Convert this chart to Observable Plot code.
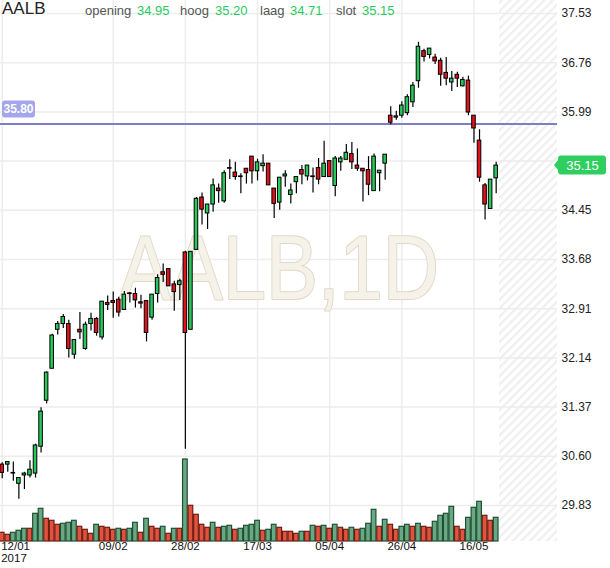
<!DOCTYPE html>
<html><head><meta charset="utf-8">
<script src="https://cdn.jsdelivr.net/npm/d3@7"></script>
<script src="https://cdn.jsdelivr.net/npm/@observablehq/plot@0.6"></script>
<style>
body{margin:0;background:#fff;font-family:"Liberation Sans",Arial,sans-serif;}
#wrap{position:relative;width:610px;height:568px;overflow:hidden;background:#fff}
#wrap svg{position:absolute;left:0;top:0}
#hdr{position:absolute;left:0;top:0;width:610px;height:20px;font-size:13px;color:#555;z-index:5}
#hdr span{position:absolute;top:3px;white-space:nowrap;line-height:15px}
#hdr .sym{font-size:17px;color:#222;top:1px;left:2px}
#hdr .v{color:#27cc5c}
</style></head><body>
<div id="wrap"><div id="hdr"></div></div>
<script>
// ---- data ----
const symbol = "AALB";
const watermark = "AALB,1D";
const dateLabels = ["12/01","09/02","28/02","17/03","05/04","26/04","16/05"];
const dateTickIdx = [0,20,33,46,59,72,85];
const yearLabel = "2017";
const priceTicks = [37.53,36.76,35.99,35.22,34.45,33.68,32.91,32.14,31.37,30.60,29.83];
const alertLevel = 35.80;
const hdrLabels = ["opening","hoog","laag","slot"];

const open  = [30.47,30.47,30.34,30.17,30.30,30.30,30.33,30.75,31.47,31.97,32.58,32.67,32.67,32.19,32.58,32.28,32.67,32.75,32.46,33.00,
               33.03,33.05,32.89,33.15,33.14,33.01,33.03,32.77,33.14,33.48,33.53,33.29,33.28,33.79,32.58,33.83,34.65,34.40,34.54,34.79,
               34.59,35.11,35.04,34.98,35.10,35.29,35.06,35.14,35.18,34.79,34.57,34.98,34.69,34.89,35.08,34.98,34.98,35.11,34.97,35.22,
               34.83,35.20,35.24,35.33,35.15,35.10,35.08,34.75,35.03,35.18,35.93,35.90,35.93,35.97,36.14,36.47,36.94,36.88,36.84,36.79,
               36.60,36.45,36.57,36.39,36.48,35.93,35.54,34.84,34.47,34.95];
const high  = [30.50,30.51,30.51,30.26,30.35,30.53,30.79,31.36,31.92,32.51,32.71,32.82,32.73,32.42,32.85,32.70,32.84,32.77,33.02,33.11,
               33.17,33.09,33.18,33.16,33.23,33.12,33.03,33.13,33.44,33.61,33.53,33.34,33.37,33.81,33.80,34.65,34.72,34.54,34.94,34.86,
               35.07,35.24,35.20,35.02,35.10,35.29,35.25,35.32,35.18,34.79,34.96,35.07,34.86,34.97,35.15,35.15,35.11,35.26,35.53,35.22,
               35.29,35.29,35.48,35.51,35.41,35.10,35.29,35.33,35.07,35.32,36.07,36.00,36.15,36.26,36.45,37.08,36.97,36.98,36.89,36.83,
               36.84,36.62,36.61,36.53,36.55,35.93,35.71,34.87,34.93,35.20];
const low   = [30.25,30.35,30.21,29.93,30.08,30.26,30.26,30.65,31.42,31.97,32.50,32.60,32.14,32.12,32.43,32.26,32.56,32.48,32.42,32.88,
               32.76,32.78,32.89,33.00,32.92,32.91,32.39,32.73,33.00,33.32,33.26,32.87,33.04,30.71,32.58,33.83,34.22,34.15,34.42,34.56,
               34.56,34.93,34.92,34.71,34.86,34.86,34.91,35.05,34.84,34.32,34.45,34.81,34.55,34.71,34.85,34.91,34.72,34.85,34.97,34.97,
               34.66,35.06,35.24,35.09,35.06,34.58,34.68,34.75,34.74,34.92,35.79,35.86,35.89,35.93,36.06,36.36,36.77,36.82,36.73,36.39,
               36.40,36.31,36.37,36.38,35.93,35.50,34.89,34.30,34.47,34.71];
const close = [30.34,30.51,30.33,30.26,30.33,30.39,30.77,31.30,31.91,32.49,32.67,32.78,32.28,32.42,32.54,32.66,32.75,32.53,33.02,32.97,
               33.00,32.85,33.13,33.14,33.04,32.99,32.53,33.13,33.39,33.44,33.26,33.17,33.34,32.53,33.80,34.63,34.46,34.54,34.84,34.75,
               35.03,35.10,34.97,34.97,35.03,35.06,35.20,35.18,34.84,34.55,34.96,35.01,34.76,34.97,35.01,35.15,34.97,34.93,35.18,34.97,
               35.26,35.26,35.35,35.20,35.10,35.06,34.85,35.29,35.07,35.32,35.82,35.92,36.09,36.22,36.40,37.01,36.85,36.98,36.78,36.57,
               36.51,36.51,36.51,36.49,35.98,35.73,34.96,34.54,34.93,35.15];
// volume (millions)
const volume = [0.87,0.67,0.87,1.07,1.27,1.27,2.77,3.27,2.27,2.07,1.67,1.77,1.87,2.07,1.47,1.17,0.77,1.67,1.47,1.37,
                1.17,1.27,1.17,1.27,1.87,0.87,2.27,1.47,1.27,1.47,0.77,1.27,1.27,8.20,3.57,2.67,1.67,1.37,1.87,1.37,
                1.47,1.57,1.17,1.27,1.57,1.67,2.07,1.07,1.17,1.67,1.37,0.97,0.97,0.77,0.97,0.97,1.57,1.47,1.57,1.27,
                1.67,1.37,1.17,1.37,1.17,1.27,1.77,3.17,1.47,2.17,1.67,1.17,1.47,1.67,1.47,1.77,1.47,1.37,1.97,2.57,
                2.77,3.47,1.47,1.17,2.37,3.37,3.97,2.57,2.07,2.37];
// volume bar direction: U = green, d = red
const volDir = ["d","d","U","U","U","d","U","U","d","d","d","U","U","U","d","d","d","U","d","d",
                "d","U","d","U","U","d","U","d","d","U","d","U","d","U","d","d","d","d","U","d",
                "U","U","d","U","U","U","U","d","U","U","d","d","d","d","U","d","U","d","U","d",
                "U","d","d","U","d","U","U","U","d","U","d","d","U","U","d","U","d","d","U","U",
                "U","U","d","d","U","U","U","d","d","U"];

// ---- styling ----
const UP = "#27c95b", DN = "#e3111b";
const VUP = "#68a983", VUPS = "#1f4f33", VDN = "#e0543f", VDNS = "#6e1c12";
const FONT = "'Liberation Sans', Arial, sans-serif";
const W = 610, H = 568;
const n = open.length;
const idx = d3.range(n);
const xDomain = [-0.31, 100.05];
const yDomain = [29.267, 37.733];
const common = {width: W, height: H, marginLeft: 0, marginRight: 53, marginTop: 0, marginBottom: 27};

const price = Plot.plot({
  ...common,
  style: {background: "transparent", fontFamily: FONT, fontSize: "12px", color: "#222"},
  x: {domain: xDomain, axis: null},
  y: {domain: yDomain, axis: null},
  color: {type: "identity"},
  marks: [
    Plot.rect([0], {x1: n - 0.4, x2: xDomain[1], fill: "url(#hatch)"}),
    Plot.gridY(priceTicks, {stroke: "#ededed", strokeOpacity: 1, strokeWidth: 1.5}),
    Plot.gridX(dateTickIdx, {stroke: "#ededed", strokeOpacity: 1, strokeWidth: 1.5}),
    Plot.text([watermark], {frameAnchor: "middle", text: d => d, fontSize: 90, fontFamily: FONT,
      fill: "#f5f2ea", stroke: "#e0d8c5", strokeWidth: 2, dy: -1, className: "wm"}),
    Plot.ruleY([alertLevel], {stroke: "#7b80c4", strokeWidth: 2}),
    Plot.axisY(priceTicks, {anchor: "right", tickSize: 0, tickPadding: 4, tickFormat: d => d.toFixed(2),
      fontSize: 12, fill: "#222", label: null}),
    Plot.text(dateTickIdx.slice(1), {x: d => d, text: (d, i) => dateLabels[i + 1], frameAnchor: "bottom", dy: 8, fontSize: 11.5, fill: "#111"}),
    Plot.text([dateTickIdx[0]], {x: d => d, text: () => dateLabels[0], frameAnchor: "bottom", dy: 8, textAnchor: "start", dx: -1, fontSize: 11.5, fill: "#111"}),
    Plot.text([dateTickIdx[0]], {x: d => d, text: () => yearLabel, frameAnchor: "bottom", dy: 20, textAnchor: "start", dx: -1, fontSize: 11.5, fill: "#111"}),
    Plot.ruleX(idx, {x: i => i, y1: i => low[i], y2: i => high[i], stroke: "#000", strokeWidth: 1.2}),
    Plot.rect(idx, {x1: i => i - 0.32, x2: i => i + 0.32, y1: i => open[i], y2: i => close[i],
      fill: i => close[i] >= open[i] ? UP : DN, stroke: "#000", strokeWidth: 1})
  ]
});

const vol = Plot.plot({
  ...common,
  style: {background: "transparent"},
  x: {domain: xDomain, axis: null},
  y: {domain: [0, 54.1], axis: null},
  color: {type: "identity"},
  marks: [
    Plot.rect(idx, {x1: i => i - 0.42, x2: i => i + 0.42, y1: i => 0, y2: i => volume[i],
      fill: i => volDir[i] === "U" ? VUP : VDN, stroke: i => volDir[i] === "U" ? VUPS : VDNS, strokeWidth: 1.2})
  ]
});

const wrap = document.getElementById("wrap");
wrap.insertBefore(vol, wrap.firstChild);
wrap.insertBefore(price, wrap.firstChild);

// hatch pattern
d3.select(price).insert("defs", ":first-child").html(
  `<pattern id="hatch" patternUnits="userSpaceOnUse" width="6" height="6" patternTransform="rotate(45)">
     <rect width="6" height="6" fill="#fff"/><line x1="1" y1="0" x2="1" y2="6" stroke="#efefef" stroke-width="2.5"/>
   </pattern>`);
d3.select(price).selectAll(".wm text").attr("textLength", 320).attr("lengthAdjust", "spacingAndGlyphs");

// price labels (positions from the plot's own scales)
const ys = price.scale("y"), xs = price.scale("x");
const svg = d3.select(price);
const lastClose = close[n - 1];
{
  const yc = ys.apply(lastClose);
  const x0 = xs.apply(xDomain[1]);
  const x1 = x0 + 49, h = 9.5, r = 3;
  svg.append("path")
    .attr("d", `M${x0 - 3},${yc} L${x0 + 1},${yc - 5} L${x0 + 1},${yc - h + r} Q${x0 + 1},${yc - h} ${x0 + 1 + r},${yc - h}
      L${x1 - r},${yc - h} Q${x1},${yc - h} ${x1},${yc - h + r} L${x1},${yc + h - r} Q${x1},${yc + h} ${x1 - r},${yc + h}
      L${x0 + 1 + r},${yc + h} Q${x0 + 1},${yc + h} ${x0 + 1},${yc + h - r} L${x0 + 1},${yc + 5} Z`)
    .attr("fill", "#2fcf5f");
  svg.append("text").attr("x", (x0 + x1) / 2 + 1).attr("y", yc).attr("dy", "0.35em")
    .attr("text-anchor", "middle").attr("fill", "#fff").attr("font-size", 13).attr("font-family", FONT)
    .text(lastClose.toFixed(2));
}
{
  const yl = ys.apply(alertLevel);
  const xl = xs.apply(xDomain[0]);
  svg.append("rect").attr("x", xl + 2).attr("y", yl - 23).attr("width", 33).attr("height", 17).attr("rx", 3)
    .attr("fill", "#a4a6ec");
  svg.append("text").attr("x", xl + 18.5).attr("y", yl - 14.5).attr("dy", "0.35em")
    .attr("text-anchor", "middle").attr("fill", "#fff").attr("font-size", 12).attr("font-weight", "bold").attr("font-family", FONT)
    .text(alertLevel.toFixed(2));
}

// header
const hdr = document.getElementById("hdr");
const vals = [open[n - 1], high[n - 1], low[n - 1], close[n - 1]];
const lab = [[85, 137], [180, 215], [260, 290], [336, 362]];
let html = `<span class="sym">${symbol}</span>`;
hdrLabels.forEach((l, i) => {
  html += `<span style="left:${lab[i][0]}px">${l}</span><span class="v" style="left:${lab[i][1]}px">${vals[i].toFixed(2)}</span>`;
});
hdr.innerHTML = html;
</script>
</body></html>
